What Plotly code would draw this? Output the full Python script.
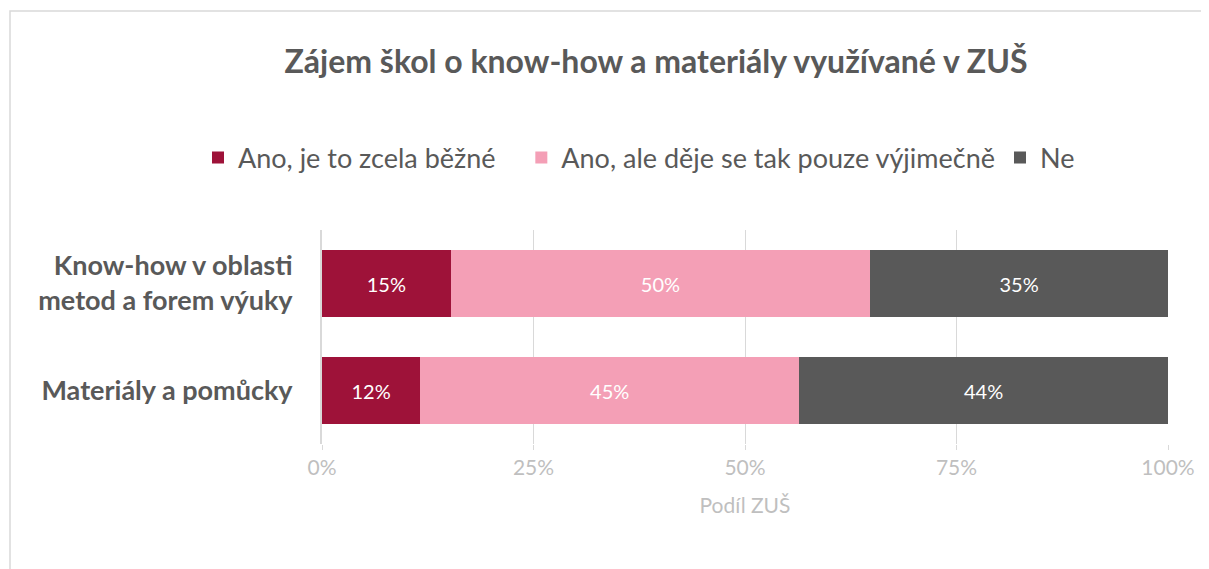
import plotly.graph_objects as go

# Data (share of schools, %)
categories = ['Know-how v oblasti<br>metod a forem výuky', 'Materiály a pomůcky']
series_names = ['Ano, je to zcela běžné', 'Ano, ale děje se tak pouze výjimečně', 'Ne']
common = [15.2, 11.6]
rare = [49.6, 44.8]
no = [35.2, 43.6]
tick_vals = [0, 25, 50, 75, 100]
tick_text = ['0%', '25%', '50%', '75%', '100%']

colors = ['#9E1239', '#F49FB6', '#595959']
FONT = 'Lato, Open Sans, sans-serif'
OFF = 8  # page body margin

# plot area in page pixels (from the reference)
L, R, T, B = 322 - OFF, 1168 - OFF, 230 - OFF, 444 - OFF
W, H = 1209, 569

fig = go.Figure()
# extra gap after the first legend entry only, as in the source
pads = ['\u00a0' * 3, '', '']
for name, vals, col, pad in zip(series_names, [common, rare, no], colors, pads):
    fig.add_trace(go.Bar(
        y=categories, x=vals, name=name + pad,
        orientation='h',
        marker=dict(color=col, line=dict(width=0)),
        texttemplate='%{x:.0f}%', textposition='inside',
        insidetextanchor='middle',
        textfont=dict(color='white', size=20, family=FONT),
    ))

fig.update_layout(
    barmode='stack',
    bargap=0.37,
    width=W, height=H,
    paper_bgcolor='white', plot_bgcolor='white',
    margin=dict(l=L, r=W - R, t=T, b=H - B),
    font=dict(family=FONT, color='#595959'),
    title=dict(
        text='<b>Zájem škol o know-how a materiály využívané v ZUŠ</b>',
        x=(656 - OFF) / W, xref='container', xanchor='center',
        y=1 - (62 - OFF) / H, yref='container', yanchor='middle',
        font=dict(size=32, color='#595959', family=FONT),
    ),
    # paper x < 0 and y > 1 lets the legend use the left margin width too
    legend=dict(
        orientation='h', xref='paper', yref='paper',
        x=(198 - OFF - L) / (R - L), xanchor='left',
        y=(B - (158 - OFF)) / (B - T), yanchor='middle',
        font=dict(size=27, color='#595959', family=FONT),
        traceorder='normal', itemwidth=30,
    ),
    showlegend=True,
    xaxis=dict(
        range=[0, 100], tickvals=tick_vals, ticktext=tick_text,
        showgrid=True, gridcolor='#D9D9D9', gridwidth=1,
        zeroline=False, showline=False,
        ticks='outside', ticklen=5, tickcolor='#D9D9D9',
        tickfont=dict(size=21, color='#BFBFBF', family=FONT),
        title=dict(text='Podíl ZUŠ', font=dict(size=21, color='#BFBFBF', family=FONT),
                   standoff=20),
    ),
    yaxis=dict(
        autorange='reversed', showgrid=False, zeroline=False,
        showline=True, linecolor='#D9D9D9', linewidth=2,
        ticks='', ticklabelstandoff=22,
        tickfont=dict(size=27, color='#595959', family=FONT),
    ),
)
# make category labels bold
fig.update_yaxes(tickvals=categories, ticktext=['<b>' + c + '</b>' for c in categories])

# chart-area border like the source
fig.add_shape(type='rect', xref='paper', yref='paper',
              x0=(10 - OFF - L) / (R - L), x1=(1240 - L) / (R - L),
              y0=(B - 620) / (B - T), y1=(B - (11 - OFF)) / (B - T),
              line=dict(color='#D9D9D9', width=1.5), layer='below')

fig.write_html('out.html')
